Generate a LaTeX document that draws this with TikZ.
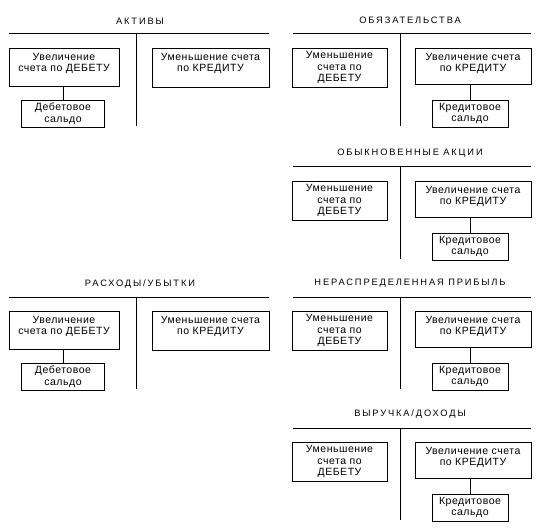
\documentclass[tikz,border=0pt]{standalone}
\usepackage{fontspec}
\setmainfont{Liberation Sans}
\newfontfamily\titlefont[LetterSpace=20]{Liberation Sans}
\newfontfamily\bodyfont[LetterSpace=5]{Liberation Sans}
% #1 width, #2 height, #3 inner pos, #4 top skip, #5 text
\newcommand\cellcontent[5]{\parbox[c][#2][#3]{#1}{\bodyfont\fontsize{10.5bp}{11.7bp}\selectfont\centering\vspace*{#4}#5\par}}
\tikzset{
  tline/.style={line width=1bp, black},
  cellbox/.style={draw=black, line width=0.9bp, inner sep=0pt, outer sep=0pt, fill=white},
  ttl/.style={inner sep=0pt, font=\titlefont\fontsize{9.3bp}{11bp}\selectfont},
}
% Debit-balance account
\newcommand\DAcct[6]{%
  \begin{scope}[shift={(0,#2)}]
    \node[ttl] (#1T) at (140,-13) {#3};
    \coordinate (#1hl) at (9,0); \coordinate (#1hr) at (269,0);
    \coordinate (#1vt) at (136,0); \coordinate (#1vb) at (136,92);
    \draw[tline] (#1hl) -- (#1hr);
    \draw[tline] (#1vt) -- (#1vb);
    \node[cellbox, anchor=north west] (#1L) at (9,14) {\cellcontent{110bp}{38bp}{t}{5bp}{#4}};
    \node[cellbox, anchor=north west] (#1R) at (152,14) {\cellcontent{117bp}{39bp}{t}{5bp}{#5}};
    \node[cellbox, anchor=north] (#1B) at (63,66) {\cellcontent{83bp}{27bp}{c}{0bp}{#6}};
    \draw[tline] (#1L.south -| #1B.north) -- (#1B.north);
  \end{scope}}
% Credit-balance account
\newcommand\CAcct[6]{%
  \begin{scope}[shift={(0,#2)}]
    \node[ttl] (#1T) at (410,-14) {#3};
    \coordinate (#1hl) at (293,0); \coordinate (#1hr) at (531,0);
    \coordinate (#1vt) at (400.5,0); \coordinate (#1vb) at (400.5,92);
    \draw[tline] (#1hl) -- (#1hr);
    \draw[tline] (#1vt) -- (#1vb);
    \node[cellbox, anchor=north west] (#1L) at (292,14) {\cellcontent{95bp}{39bp}{c}{0bp}{#4}};
    \node[cellbox, anchor=north west] (#1R) at (415,14) {\cellcontent{116bp}{36bp}{t}{5bp}{#5}};
    \node[cellbox, anchor=north] (#1B) at (470,66) {\cellcontent{76bp}{27bp}{c}{0bp}{#6}};
    \draw[tline] (#1R.south -| #1B.north) -- (#1B.north);
  \end{scope}}
\begin{document}
\begin{tikzpicture}[x=1bp, y=-1bp]
  \fill[white] (0,0) rectangle (543,529);
  \useasboundingbox (0,0) rectangle (543,529);
  \DAcct{a}{34}{АКТИВЫ}{Увеличение\\счета по ДЕБЕТУ}{Уменьшение счета\\по КРЕДИТУ}{Дебетовое\\сальдо}
  \CAcct{b}{34}{ОБЯЗАТЕЛЬСТВА}{Уменьшение\\счета по\\ДЕБЕТУ}{Увеличение счета\\по КРЕДИТУ}{Кредитовое\\сальдо}
  \CAcct{c}{167}{ОБЫКНОВЕННЫЕ АКЦИИ}{Уменьшение\\счета по\\ДЕБЕТУ}{Увеличение счета\\по КРЕДИТУ}{Кредитовое\\сальдо}
  \DAcct{d}{297}{РАСХОДЫ/УБЫТКИ}{Увеличение\\счета по ДЕБЕТУ}{Уменьшение счета\\по КРЕДИТУ}{Дебетовое\\сальдо}
  \CAcct{e}{297}{НЕРАСПРЕДЕЛЕННАЯ ПРИБЫЛЬ}{Уменьшение\\счета по\\ДЕБЕТУ}{Увеличение счета\\по КРЕДИТУ}{Кредитовое\\сальдо}
  \CAcct{f}{428}{ВЫРУЧКА/ДОХОДЫ}{Уменьшение\\счета по\\ДЕБЕТУ}{Увеличение счета\\по КРЕДИТУ}{Кредитовое\\сальдо}
\end{tikzpicture}
\end{document}
